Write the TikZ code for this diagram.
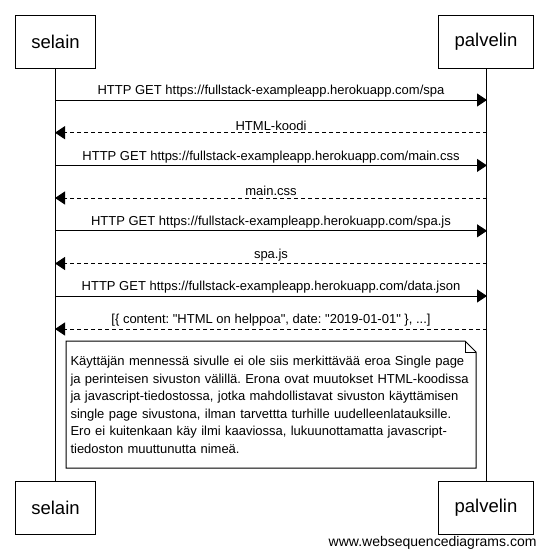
\documentclass[tikz,border=0pt]{standalone}
\usepackage{fontspec}
\newfontfamily\wsdfont{Liberation Sans}
\usetikzlibrary{arrows.meta, calc}

\begin{document}
\frenchspacing
\begin{tikzpicture}[
  x = 1pt,
  y = -1pt,
  line width = 1pt,
  actor/.style = {
    rectangle,
    draw,
    inner xsep = 16pt,
    minimum height = 53pt,
    font = \wsdfont\fontsize{18.5}{22}\selectfont
  },
  lifeline/.style = {
    draw,
    line width = 1pt
  },
  request/.style = {
    -{Triangle[length=10pt, width=13pt]},
    draw
  },
  response/.style = {
    -{Triangle[length=10pt, width=13pt]},
    draw,
    dash pattern = on 4pt off 3pt
  },
  msg/.style = {
    above,
    inner sep = 2pt,
    font = \wsdfont\fontsize{13}{15}\selectfont
  },
  notetext/.style = {
    text width = 403pt,
    align = left,
    inner sep = 0pt,
    font = \wsdfont\fontsize{13}{17.5}\selectfont
  }
]

\useasboundingbox (0,0) rectangle (547,558);

% Participants
\node[actor] (selain) at (55.5,41.5) {selain};
\node[actor] (palvelin) at (486,41.5) {palvelin};
\node[actor] (selainB) at (55.5,508) {selain};
\node[actor] (palvelinB) at (486,508) {palvelin};

% Lifelines
\draw[lifeline] (selain) -- (selainB);
\draw[lifeline] (palvelin) -- (palvelinB);

% Message points
\coordinate (s1) at (55,100);   \coordinate (p1) at (487,100);
\coordinate (s2) at (55,132.7); \coordinate (p2) at (487,132.7);
\coordinate (s3) at (55,165.4); \coordinate (p3) at (487,165.4);
\coordinate (s4) at (55,198);   \coordinate (p4) at (487,198);
\coordinate (s5) at (55,230.8); \coordinate (p5) at (487,230.8);
\coordinate (s6) at (55,263.5); \coordinate (p6) at (487,263.5);
\coordinate (s7) at (55,296);   \coordinate (p7) at (487,296);
\coordinate (s8) at (55,329);   \coordinate (p8) at (487,329);

% Messages
\draw[request] (s1) -- node[msg] {HTTP GET https://fullstack-exampleapp.herokuapp.com/spa} (p1);
\draw[response] (p2) -- node[msg] {HTML-koodi} (s2);
\draw[request] (s3) -- node[msg] {HTTP GET https://fullstack-exampleapp.herokuapp.com/main.css} (p3);
\draw[response] (p4) -- node[msg] {main.css} (s4);
\draw[request] (s5) -- node[msg] {HTTP GET https://fullstack-exampleapp.herokuapp.com/spa.js} (p5);
\draw[response] (p6) -- node[msg] {spa.js} (s6);
\draw[request] (s7) -- node[msg] {HTTP GET https://fullstack-exampleapp.herokuapp.com/data.json} (p7);
\draw[response] (p8) -- node[msg] {[\{ content: "HTML on helppoa", date: "2019-01-01" \}, ...]} (s8);

% Note
\coordinate (noteNW) at (66,341);
\coordinate (noteSE) at (476,468);
\draw[fill=white] (noteNW) -- ($(noteSE|-noteNW)+(-11,0)$) -- ($(noteSE|-noteNW)+(0,11)$)
  -- (noteSE) -- (noteNW|-noteSE) -- cycle;
\draw ($(noteSE|-noteNW)+(-11,0)$) |- ($(noteSE|-noteNW)+(0,11)$);
\node[notetext] (note) at ($(noteNW)!0.5!(noteSE)+(1,0.5)$) {Käyttäjän mennessä sivulle ei ole siis merkittävää eroa Single page\\
ja perinteisen sivuston välillä. Erona ovat muutokset HTML-koodissa\\
ja javascript-tiedostossa, jotka mahdollistavat sivuston käyttämisen\\
single page sivustona, ilman tarvettta turhille uudelleenlatauksille.\\
Ero ei kuitenkaan käy ilmi kaaviossa, lukuunottamatta javascript-\\
tiedoston muuttunutta nimeä.};

% Watermark
\node[anchor=east, inner sep=0pt, font=\wsdfont\fontsize{14}{16}\selectfont] (wsd) at (537,543) {www.websequencediagrams.com};

\end{tikzpicture}
\end{document}
